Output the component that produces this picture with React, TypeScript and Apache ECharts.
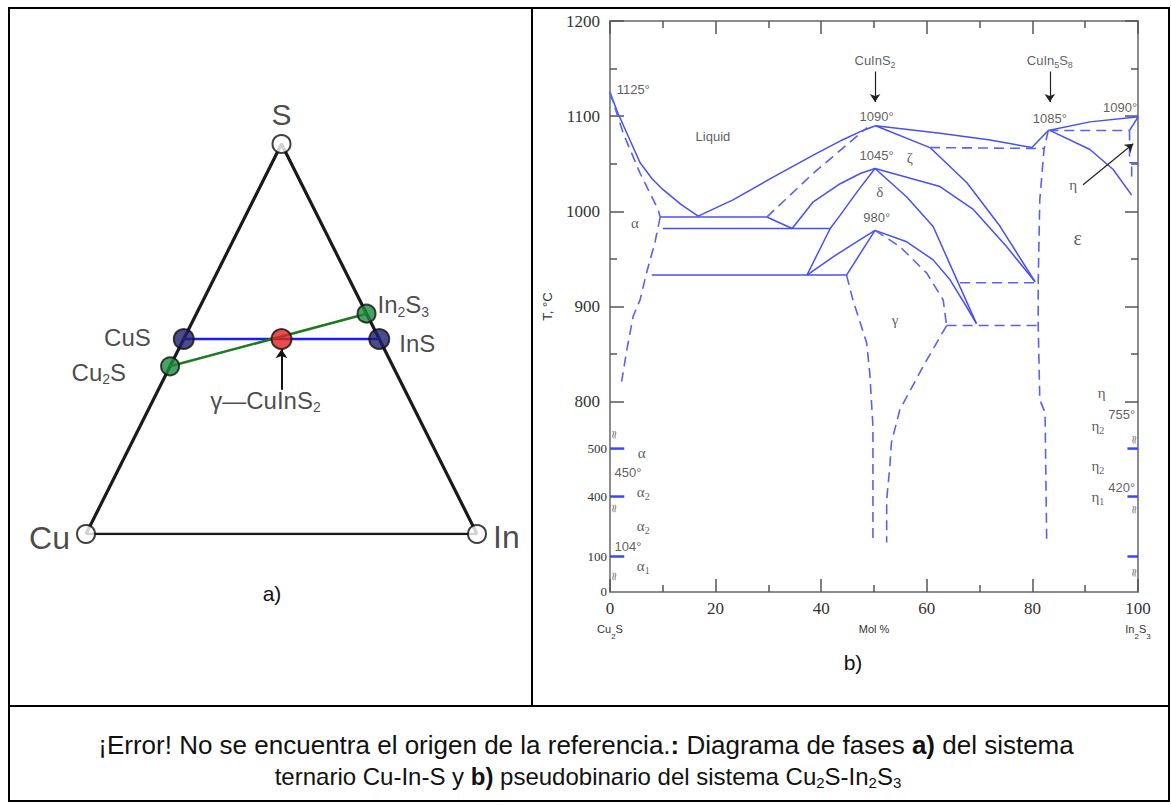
import React, { useEffect, useRef } from 'react';
import * as echarts from 'echarts';

// ================= b) Pseudo-binary Cu2S–In2S3 : points are [mol % In2S3, T °C] =================
const xTicks = [0, 20, 40, 60, 80, 100];
const yUpperTicks = [800, 900, 1000, 1100, 1200];
const yUpperMinor = [850, 950, 1050, 1150];
const yLowerTicks = [0, 100, 400, 500];
// broken temperature axis: temperature -> axis position
const breakTemps = [0, 100, 400, 500, 800];
const breakPos = [600.5, 637.3, 700.3, 750.7, 800];

// solid boundaries
const liquidusLeft = [[0, 1125], [1.5, 1103], [3.2, 1082], [5.7, 1051], [8, 1034], [10, 1023], [13.5, 1007], [16.7, 995]];
const liquidusMid = [[16.7, 995], [23.3, 1012], [30.9, 1036], [38.5, 1059], [44, 1075], [47.9, 1085], [50.3, 1090]];
const eutectic994 = [[9.5, 994], [29.7, 994]];
const peritectic994 = [[29.7, 994], [34.5, 982]];
const line982 = [[10, 982], [41.7, 982]];
const deltaLeftA = [[34.5, 982], [38.5, 1010], [43.6, 1029], [47.5, 1040], [50.2, 1045]];
const deltaLeftB = [[37.3, 933], [41.7, 982], [43.6, 996], [47, 1022], [50.2, 1045]];
const gammaPeakLeft = [[37.3, 933], [42.2, 952], [47.3, 970], [50.2, 980]];
const line933 = [[7.9, 933], [44.8, 933]];
const gammaRightUp = [[44.8, 933], [47.9, 960], [50.2, 980]];
const gammaPeakRight = [[50.2, 980], [56.2, 968], [61.2, 949], [64.4, 928], [67.5, 900], [69.4, 882]];
const deltaRight = [[50.2, 1045], [56.2, 1015], [61.2, 984], [65.7, 928], [69.4, 882]];
const zetaRightLower = [[50.2, 1045], [62.5, 1026], [68.8, 1002], [75.1, 963], [80.5, 926]];
const zetaRightUpper = [[50.3, 1090], [60.6, 1067], [67.6, 1030], [73.9, 984], [80.5, 926]];
const liquidusRight = [[50.3, 1090], [62.5, 1082], [72, 1075], [79.9, 1067]];
const peritectic1085 = [[79.9, 1067], [83, 1085]];
const liquidusEps = [[83, 1085], [90.9, 1094], [99.7, 1099], [100, 1099]];
const etaSolid = [[98.4, 1085], [100, 1099]];
const epsilonCurve = [[83.3, 1085], [90.9, 1065], [95.3, 1044], [98.8, 1017]];

// dashed boundaries
const zetaSolidusLeft = [[29.7, 994], [38.5, 1040], [44, 1066], [48.7, 1088]];
const alphaUpper = [[0, 1125], [2.5, 1082], [5.7, 1040], [9.1, 1002], [9.5, 994]];
const alphaLower = [[9.5, 994], [8.5, 967], [6.9, 935], [5.7, 907], [4.4, 890], [3.2, 855], [2.2, 821]];
const line926 = [[66.3, 925], [80.8, 925]];
const line880 = [[63.75, 880], [81.1, 880]];
const line1066 = [[60.6, 1067], [82.2, 1066]];
const epsilonLeft = [[83, 1085], [82.2, 1065], [81.4, 1012], [81.1, 926], [81.1, 880], [81.4, 802], [82.4, 730], [82.7, 185]];
const line1085 = [[83, 1085], [98.4, 1085]];
const etaDashedA = [[98.4, 1085], [98.4, 1051], [100, 1051]];
const etaDashedB = [[98.8, 1047], [98.8, 1036]];
const gammaLeftDashed = [[44.8, 933], [46, 907], [48.6, 862], [49.2, 830], [49.8, 640], [49.8, 170]];
const gammaRightDashed = [[63.75, 880], [59.3, 837], [54.9, 749], [53.3, 538], [53, 462], [52.4, 384], [52.4, 170]];
const gammaPeakRightDashed = [[50.2, 980], [54.9, 963], [60, 935], [63.1, 907], [63.75, 880]];

// low-temperature transitions marked on the side axes
const leftMarkTemps = [500, 400, 100];
const rightMarkTemps = [500, 400, 100];
const leftBreakTemps = [589, 340, 43];
const rightBreakTemps = [557, 335, 54];

// annotations [x, T, text]
const tempLabels: [number, number, string][] = [
  [4.4, 1128, '1125°'], [50.5, 1100, '1090°'], [50.5, 1059, '1045°'], [50.5, 993, '980°'],
  [83.3, 1098, '1085°'], [96.6, 1109, '1090°'], [3.4, 450, '450°'], [3.4, 151, '104°'],
  [96.9, 717, '755°'], [96.9, 418, '420°'],
];
const phaseLabels: [number, number, string][] = [
  [4.7, 988, 'α'], [56.8, 1056, 'ζ'], [51.1, 1020, 'δ'], [54, 886, 'γ'], [87.7, 1028, 'η'],
  [6.0, 491, 'α'], [6.3, 409, 'α_2'], [6.3, 255, 'α_2'], [6.3, 72, 'α_1'],
  [93.1, 809, 'η'], [92.4, 642, 'η_2'], [92.4, 463, 'η_2'], [92.4, 400, 'η_1'],
];
const epsilonLabel: [number, number, string] = [88.6, 972, 'ε'];
const regionLabels: [number, number, string][] = [[19.5, 1079, 'Liquid']];
const compoundLabels: [number, number, string][] = [[50.2, 1158, 'CuInS_2'], [83.3, 1158, 'CuIn_5S_8']];
const arrowsB = [
  [[50.2, 1147], [50.2, 1115]],
  [[83.3, 1147], [83.3, 1115]],
  [[89.6, 1028], [99.1, 1071]],
];

// ================= a) Ternary Cu–In–S : compositions [S fraction, In fraction] =================
const vertexNames = ['S', 'Cu', 'In'];
const vertexComp = [[1, 0], [0, 0], [0, 1]];
const compoundNames = ['CuS', 'InS', 'Cu_2S', 'In_2S_3', 'γ—CuInS_2'];
const compoundComp = [[0.5, 0], [0.5, 0.5], [0.43, 0], [0.565, 0.435], [0.5, 0.25]];
const arrowA = [[0.37, 0.315], [0.474, 0.263]];

// ---------------- helpers ----------------
const toAxis = (t: number) => {
  if (t >= 800) return t;
  for (let k = 0; k < breakTemps.length - 1; k++) {
    if (t <= breakTemps[k + 1]) {
      const f = (t - breakTemps[k]) / (breakTemps[k + 1] - breakTemps[k]);
      return breakPos[k] + f * (breakPos[k + 1] - breakPos[k]);
    }
  }
  return t;
};
const pt = (p: number[]) => [p[0], toAxis(p[1])];
const tern = (c: number[]) => [c[1] + c[0] / 2, c[0]];
const richSub = (s: string, base: string, sub: string) =>
  s.split(/(_\d)/).filter(Boolean)
    .map((tok) => (tok.startsWith('_') ? `{${sub}|${tok.slice(1)}}` : `{${base}|${tok}}`)).join('');

const SOLID = '#4650f5';
const DASH = '#5862f2';
const SANS = 'Liberation Sans, Arial, sans-serif';
const SERIF = 'Liberation Serif, Times New Roman, serif';
const AX = '#8c8c8c';
const TICK = '#555';
const LAB = '#333';

const B = { xAxisIndex: 0, yAxisIndex: 0 };
const T = { xAxisIndex: 2, yAxisIndex: 4 };

const lineSeries = (d: number[][], dashed: boolean) => ({
  type: 'line', ...B, data: d.map(pt), showSymbol: false, symbol: 'none', silent: true, z: 3,
  lineStyle: { color: dashed ? DASH : SOLID, width: dashed ? 1.6 : 1.5, type: dashed ? [10, 6] : 'solid' },
});

const solidCurves = [liquidusLeft, liquidusMid, eutectic994, peritectic994, line982, deltaLeftA, deltaLeftB,
  gammaPeakLeft, line933, gammaRightUp, gammaPeakRight, deltaRight, zetaRightLower, zetaRightUpper,
  liquidusRight, peritectic1085, liquidusEps, etaSolid, epsilonCurve];
const dashedCurves = [zetaSolidusLeft, alphaUpper, alphaLower, line926, line880, line1066, epsilonLeft,
  line1085, etaDashedA, etaDashedB, gammaLeftDashed, gammaRightDashed, gammaPeakRightDashed];

const yLabelPositions = [...yLowerTicks.map(toAxis), ...yUpperTicks];
const yLabelFormatter = (v: number) => {
  const lo = yLowerTicks.find((t) => Math.abs(toAxis(t) - v) < 0.01);
  if (lo !== undefined) return `{s|${lo}}`;
  const hi = yUpperTicks.find((t) => Math.abs(t - v) < 0.01);
  return hi !== undefined ? `{b|${hi}}` : '';
};

const subRich = (size: number, family: string, color = LAB) => ({
  n: { fontSize: size, fontFamily: family, color, lineHeight: size + 4 },
  s: { fontSize: Math.round(size * 0.68), fontFamily: family, color, lineHeight: Math.round(size * 0.6), verticalAlign: 'bottom' },
});

const textItem = (x: number, t: number, text: string, size: number, family: string, color = LAB) => ({
  value: pt([x, t]),
  label: { show: true, position: 'inside', formatter: richSub(text, 'n', 's'), rich: subRich(size, family, color) },
});

const textData = [
  ...tempLabels.map(([x, t, s]) => textItem(x, t, s, 13, SANS)),
  ...phaseLabels.map(([x, t, s]) => textItem(x, t, s, 15, SERIF)),
  textItem(epsilonLabel[0], epsilonLabel[1], epsilonLabel[2], 20, SERIF),
  ...regionLabels.map(([x, t, s]) => textItem(x, t, s, 13, SANS)),
  ...compoundLabels.map(([x, t, s]) => textItem(x, t, s, 13, SANS)),
];

const breakData = [
  ...leftBreakTemps.map((t) => pt([0.8, t])),
  ...rightBreakTemps.map((t) => pt([99.2, t])),
];

// ternary label placement (style only)
const vertexLabelStyle: any[] = [
  { position: 'top', distance: 5, fontSize: 30 },
  { position: 'left', distance: 6, fontSize: 32, offset: [0, 4] },
  { position: 'right', distance: 6, fontSize: 32, offset: [0, 3] },
];
const compoundLabelStyle: any[] = [
  { position: 'left', distance: 22, offset: [0, -2] },
  { position: 'right', distance: 9, offset: [0, 4] },
  { position: 'left', distance: 34, offset: [0, 6] },
  { position: 'right', distance: 1, offset: [0, -9] },
  { position: 'inside', offset: [-16, 61] },
];
const compoundColors = ['#1f1f6e', '#1f1f6e', '#1b8a3c', '#1b8a3c', '#e0231e'];

const option: any = {
  animation: false,
  backgroundColor: '#fff',
  grid: [
    { left: 610, top: 21, width: 528, height: 571 },
    { left: 86, top: 144, width: 391, height: 390 },
  ],
  xAxis: [
    {
      gridIndex: 0, type: 'value', min: 0, max: 100, interval: 20, position: 'bottom',
      axisLine: { onZero: false, lineStyle: { color: AX, width: 2 } },
      axisTick: { inside: true, length: 13, lineStyle: { color: TICK, width: 1.5 } },
      minorTick: { show: true, splitNumber: 2, length: 7, lineStyle: { color: TICK, width: 1.5 } },
      splitLine: { show: false }, minorSplitLine: { show: false },
      axisLabel: {
        margin: 6,
        formatter: (v: number) => {
          if (v === 0) return `{a|0}\n{c|Cu}{cs|2}{c|S}`;
          if (v === 100) return `{a|100}\n{c|In}{cs|2}{c|S}{cs|3}`;
          return `{a|${v}}`;
        },
        rich: {
          a: { fontSize: 17, fontFamily: SERIF, color: LAB, lineHeight: 20 },
          c: { fontSize: 11, fontFamily: SANS, color: LAB, lineHeight: 22 },
          cs: { fontSize: 8, fontFamily: SANS, color: LAB, lineHeight: 8, verticalAlign: 'bottom' },
        },
      },
      name: 'Mol %', nameLocation: 'middle', nameGap: 31, nameMoveOverlap: false,
      nameTextStyle: { fontSize: 11, fontFamily: SANS, color: LAB },
    },
    {
      gridIndex: 0, type: 'value', min: 0, max: 100, interval: 20, position: 'top',
      axisLine: { onZero: false, lineStyle: { color: AX, width: 2 } },
      axisTick: { inside: true, length: 13, lineStyle: { color: TICK, width: 1.5 } },
      minorTick: { show: true, splitNumber: 2, length: 7, lineStyle: { color: TICK, width: 1.5 } },
      splitLine: { show: false }, minorSplitLine: { show: false }, axisLabel: { show: false },
    },
    { gridIndex: 1, type: 'value', min: 0, max: 1, show: false },
  ],
  yAxis: [
    {
      gridIndex: 0, type: 'value', min: 600, max: 1200, position: 'left',
      axisLine: { onZero: false, lineStyle: { color: AX, width: 2 } },
      axisTick: { inside: true, length: 14, customValues: yUpperTicks, lineStyle: { color: TICK, width: 1.5 } },
      splitLine: { show: false },
      axisLabel: {
        margin: 3, customValues: yLabelPositions, formatter: yLabelFormatter,
        rich: {
          s: { fontSize: 13, fontFamily: SERIF, color: LAB },
          b: { fontSize: 17, fontFamily: SERIF, color: LAB, padding: [0, 7, 0, 0] },
        },
      },
      name: 'T, °C', nameLocation: 'middle', nameGap: 56, nameRotate: 90, nameMoveOverlap: false,
      nameTextStyle: { fontSize: 13, fontFamily: SANS, color: LAB },
    },
    {
      gridIndex: 0, type: 'value', min: 600, max: 1200, position: 'left',
      axisLine: { show: false, onZero: false },
      axisTick: { inside: true, length: 7, customValues: yUpperMinor, lineStyle: { color: TICK, width: 1.5 } },
      splitLine: { show: false }, axisLabel: { show: false },
    },
    {
      gridIndex: 0, type: 'value', min: 600, max: 1200, position: 'right',
      axisLine: { onZero: false, lineStyle: { color: AX, width: 2 } },
      axisTick: { inside: true, length: 13, customValues: yUpperTicks, lineStyle: { color: TICK, width: 1.5 } },
      splitLine: { show: false }, axisLabel: { show: false },
    },
    {
      gridIndex: 0, type: 'value', min: 600, max: 1200, position: 'right',
      axisLine: { show: false, onZero: false },
      axisTick: { inside: true, length: 7, customValues: yUpperMinor, lineStyle: { color: TICK, width: 1.5 } },
      splitLine: { show: false }, axisLabel: { show: false },
    },
    { gridIndex: 1, type: 'value', min: 0, max: 1, show: false },
  ],
  series: [
    ...solidCurves.map((d) => lineSeries(d, false)),
    ...dashedCurves.map((d) => lineSeries(d, true)),
    ...leftMarkTemps.map((t) => ({
      type: 'line', ...B, data: [pt([0, t]), pt([2.7, t])], showSymbol: false, silent: true, z: 4,
      lineStyle: { color: '#3a46ff', width: 2.5 },
    })),
    ...rightMarkTemps.map((t) => ({
      type: 'line', ...B, data: [pt([98, t]), pt([100, t])], showSymbol: false, silent: true, z: 4,
      lineStyle: { color: '#3a46ff', width: 2.5 },
    })),
    {
      type: 'lines', coordinateSystem: 'cartesian2d', ...B, silent: true, z: 5,
      symbol: ['none', 'arrow'], symbolSize: 8,
      lineStyle: { color: '#222', width: 1.2, opacity: 1 },
      data: arrowsB.map((a) => ({ coords: a.map(pt) })),
    },
    {
      type: 'scatter', ...B, symbolSize: 0, silent: true, z: 6, clip: false,
      data: textData,
    },
    {
      type: 'scatter', ...B, symbolSize: 0, silent: true, z: 6, clip: false,
      label: { show: true, position: 'inside', formatter: '≈', rotate: 90, fontSize: 12, color: '#555', fontFamily: 'DejaVu Sans' },
      data: breakData,
    },
    // ---------- ternary ----------
    {
      type: 'line', ...T, data: [vertexComp[1], vertexComp[0], vertexComp[2]].map(tern),
      showSymbol: false, silent: true, z: 2, lineStyle: { color: '#1a1a1a', width: 3.2 },
    },
    {
      type: 'line', ...T, data: [vertexComp[1], vertexComp[2]].map(tern),
      showSymbol: false, silent: true, z: 2, lineStyle: { color: '#1a1a1a', width: 2.4 },
    },
    {
      type: 'line', ...T, data: [compoundComp[0], compoundComp[1]].map(tern),
      showSymbol: false, silent: true, z: 3, lineStyle: { color: '#1a1aff', width: 2.6 },
    },
    {
      type: 'line', ...T, data: [compoundComp[2], compoundComp[3]].map(tern),
      showSymbol: false, silent: true, z: 3, lineStyle: { color: '#1f7a1f', width: 2.6 },
    },
    {
      type: 'lines', coordinateSystem: 'cartesian2d', ...T, silent: true, z: 4,
      symbol: ['none', 'arrow'], symbolSize: 9,
      lineStyle: { color: '#111', width: 2, opacity: 1 },
      data: [{ coords: arrowA.map(tern) }],
    },
    {
      type: 'scatter', ...T, silent: true, z: 5, symbol: 'circle', symbolSize: 18,
      itemStyle: { color: '#fff', borderColor: '#111', borderWidth: 2 },
      data: vertexComp.map((c, i) => ({
        value: tern(c),
        label: {
          show: true, formatter: vertexNames[i], color: '#1a1a1a', fontFamily: SANS,
          ...vertexLabelStyle[i],
        },
      })),
    },
    {
      type: 'scatter', ...T, silent: true, z: 5, symbol: 'circle',
      data: compoundComp.map((c, i) => ({
        value: tern(c),
        symbolSize: i < 2 || i === 4 ? 20 : 18,
        itemStyle: { color: compoundColors[i], borderColor: '#111', borderWidth: 2 },
        label: {
          show: true, formatter: richSub(compoundNames[i], 'n', 's'),
          rich: {
            n: { fontSize: 24, fontFamily: SANS, color: '#1a1a1a', lineHeight: 28 },
            s: { fontSize: 14, fontFamily: SANS, color: '#1a1a1a', lineHeight: 14, verticalAlign: 'bottom' },
          },
          ...compoundLabelStyle[i],
        },
      })),
    },
  ],
  graphic: [
    // table borders
    { type: 'line', shape: { x1: 8, y1: 8, x2: 1170, y2: 8 }, style: { stroke: '#000', lineWidth: 2 } },
    { type: 'line', shape: { x1: 9, y1: 8, x2: 9, y2: 801 }, style: { stroke: '#000', lineWidth: 2 } },
    { type: 'line', shape: { x1: 1169, y1: 8, x2: 1169, y2: 801 }, style: { stroke: '#000', lineWidth: 2 } },
    { type: 'line', shape: { x1: 532, y1: 8, x2: 532, y2: 706 }, style: { stroke: '#000', lineWidth: 2 } },
    { type: 'line', shape: { x1: 8, y1: 706, x2: 1170, y2: 706 }, style: { stroke: '#000', lineWidth: 2 } },
    { type: 'line', shape: { x1: 8, y1: 801, x2: 1170, y2: 801 }, style: { stroke: '#000', lineWidth: 2 } },
    {
      type: 'text', x: 272, y: 593,
      style: { text: 'a)', fontSize: 21, fontFamily: SANS, fill: '#111', align: 'center', verticalAlign: 'middle', textAlign: 'center', textVerticalAlign: 'middle' },
    },
    {
      type: 'text', x: 853, y: 662,
      style: { text: 'b)', fontSize: 21, fontFamily: SANS, fill: '#111', align: 'center', verticalAlign: 'middle', textAlign: 'center', textVerticalAlign: 'middle' },
    },
    {
      type: 'text', x: 586, y: 745,
      style: {
        text: '{n|¡Error! No se encuentra el origen de la referencia.}{b|:}{n| Diagrama de fases }{b|a)}{n| del sistema}',
        align: 'center', verticalAlign: 'middle', textAlign: 'center', textVerticalAlign: 'middle',
        rich: {
          n: { fontSize: 26, fontFamily: SANS, fill: '#111', color: '#111' },
          b: { fontSize: 26, fontFamily: SANS, fontWeight: 'bold', fill: '#111', color: '#111' },
        },
      },
    },
    {
      type: 'text', x: 588, y: 776,
      style: {
        text: '{n|ternario Cu-In-S y }{b|b)}{n| pseudobinario del sistema Cu}{s|2}{n|S-In}{s|2}{n|S}{s|3}',
        align: 'center', verticalAlign: 'middle', textAlign: 'center', textVerticalAlign: 'middle',
        rich: {
          n: { fontSize: 24, fontFamily: SANS, fill: '#111', color: '#111', lineHeight: 28 },
          b: { fontSize: 24, fontFamily: SANS, fontWeight: 'bold', fill: '#111', color: '#111', lineHeight: 28 },
          s: { fontSize: 15, fontFamily: SANS, fill: '#111', color: '#111', lineHeight: 14, verticalAlign: 'bottom' },
        },
      },
    },
  ],
};

export default function App() {
  const ref = useRef<HTMLDivElement>(null);
  useEffect(() => {
    const chart = echarts.init(ref.current!, null, { renderer: 'svg' });
    chart.setOption(option);
    return () => chart.dispose();
  }, []);
  return (
    <div
      ref={ref}
      style={{ position: 'absolute', left: 0, top: 0, width: 1171, height: 805, background: '#fff' }}
    />
  );
}
